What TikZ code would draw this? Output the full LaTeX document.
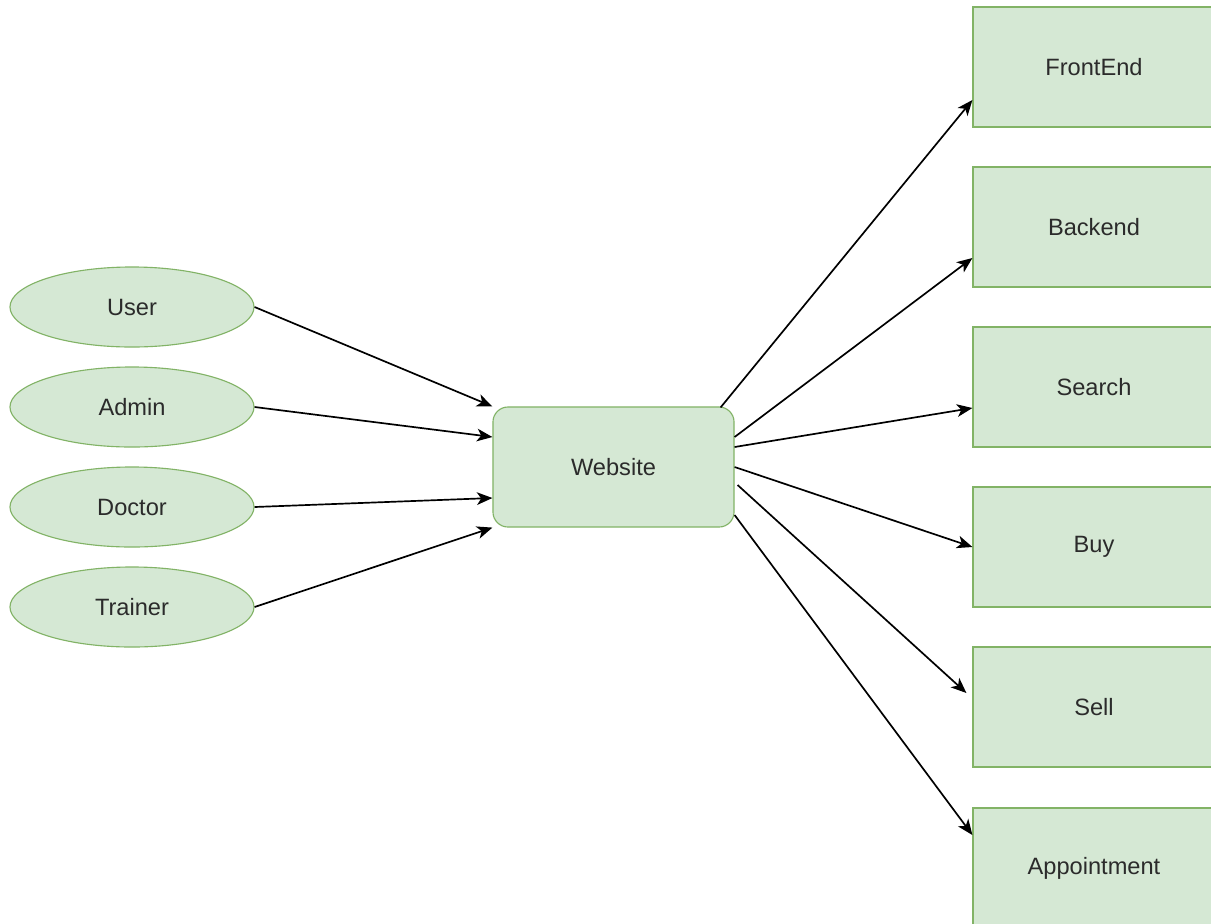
\documentclass[tikz,border=0pt]{standalone}
\usepackage{fontspec}
\setmainfont{Liberation Sans}
\usetikzlibrary{shapes.geometric,arrows.meta,calc}
\definecolor{boxfill}{HTML}{D5E8D4}
\definecolor{boxline}{HTML}{82B366}
\definecolor{txt}{HTML}{2B2B2B}
\begin{document}
\begin{tikzpicture}[x=0.025cm, y=-0.025cm,
  actor/.style = {ellipse, draw = boxline, fill = boxfill, line width = 0.8pt, inner sep = 0pt, minimum width = 6.1cm, minimum height = 2cm, text = txt, font = \fontsize{16.8}{20}\selectfont},
  hub/.style = {rectangle, rounded corners = 0.375cm, draw = boxline, fill = boxfill, line width = 0.8pt, inner sep = 0pt, minimum width = 6.025cm, minimum height = 3cm, text = txt, font = \fontsize{16.8}{20}\selectfont},
  part/.style = {rectangle, draw = boxline, fill = boxfill, line width = 0.8pt, inner sep = 0pt, minimum width = 6.05cm, minimum height = 3cm, text = txt, font = \fontsize{16.8}{20}\selectfont},
  link/.style = {draw = black, line width = 1.2pt, -{Stealth[length = 11pt, width = 9pt, inset = 3pt]}}]
\useasboundingbox[fill = white] (0,0) rectangle (1211,923);
\foreach \name/\label/\y in {user/User/307, admin/Admin/407, doctor/Doctor/507, trainer/Trainer/607}
  \node[actor] (\name) at (132,\y) {\label};
\node[hub] (web) at (613.5,467) {Website};
\foreach \name/\label/\y in {front/FrontEnd/67, back/Backend/227, search/Search/387, buy/Buy/547, sell/Sell/707, appt/Appointment/868}
  \node[part] (\name) at (1094,\y) {\label};
% users into the website
\draw[link] (user.east) -- (web.north west);
\draw[link] (admin.east) -- ($(web.west)+(0,-30)$);
\draw[link] (doctor.east) -- ($(web.west)+(0,31)$);
\draw[link] (trainer.east) -- (web.south west);
% website out to its parts
\draw[link] ($(web.north east)+(-14,1)$) -- ($(front.west)+(0,33)$);
\draw[link] ($(web.east)+(0,-30)$) -- ($(back.west)+(0,31)$);
\draw[link] ($(web.east)+(0,-20)$) -- ($(search.west)+(0,21)$);
\draw[link] (web.east) -- (buy.west);
\draw[link] ($(web.east)+(3,18)$) -- ($(sell.west)+(-6,-14)$);
\draw[link] ($(web.east)+(0,48)$) -- ($(appt.west)+(0,-33)$);
\end{tikzpicture}
\end{document}
